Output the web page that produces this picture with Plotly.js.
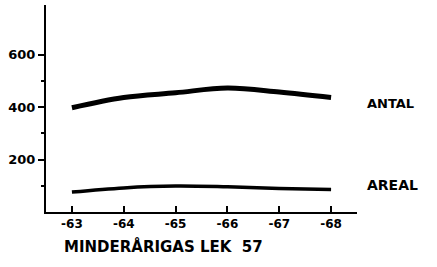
<!DOCTYPE html>
<html><head><meta charset="utf-8">
<script src="https://cdn.plot.ly/plotly-3.0.1.min.js"></script>
<style>html,body{margin:0;padding:0;background:#fff}</style>
</head><body><div id="c" style="width:437px;height:267px"></div>
<script>
const years = [1963, 1964, 1965, 1966, 1967, 1968];
const yearLabels = ['-63', '-64', '-65', '-66', '-67', '-68'];
const antal = [398, 437, 455, 473, 458, 437];
const areal = [76, 92, 99, 96, 90, 86];
const seriesNames = ['ANTAL', 'AREAL'];
const yTicks = [200, 400, 600];
const yTickLabels = ['200', '400', '600'];
const xTitle = 'MINDERÅRIGAS LEK  57';

const F = 'DejaVu Sans, sans-serif';
const traces = [
  {x: years, y: antal, mode: 'lines', line: {color: '#000', width: 5, shape: 'spline'}, name: seriesNames[0]},
  {x: years, y: areal, mode: 'lines', line: {color: '#000', width: 3.5, shape: 'spline'}, name: seriesNames[1]}
];
const layout = {
  width: 437, height: 267,
  margin: {l: 46, r: 80, t: 5, b: 55},
  paper_bgcolor: '#fff', plot_bgcolor: '#fff',
  showlegend: false,
  xaxis: {
    range: [1962.5, 1968.5], tickvals: years, ticktext: yearLabels,
    ticks: 'inside', ticklen: 6, tickwidth: 2, tickcolor: '#000',
    showline: true, linewidth: 2, linecolor: '#000', showgrid: false, zeroline: false,
    tickfont: {family: F, size: 12, color: '#000', weight: 'bold'}
  },
  yaxis: {
    range: [0, 790], tickvals: yTicks, ticktext: yTickLabels,
    ticks: 'outside', ticklen: 6, tickwidth: 2, tickcolor: '#000',
    minor: {tickvals: [100, 300, 500], ticks: 'outside', ticklen: 3, tickwidth: 2, tickcolor: '#000'},
    showline: true, linewidth: 2, linecolor: '#000', showgrid: false, zeroline: false,
    tickfont: {family: F, size: 13, color: '#000', weight: 'bold'}
  },
  annotations: [
    {x: 1, xref: 'paper', xanchor: 'left', xshift: 8, y: antal[5], yref: 'y', yshift: -6, text: seriesNames[0], showarrow: false,
     font: {family: F, size: 13, color: '#000', weight: 'bold'}},
    {x: 1, xref: 'paper', xanchor: 'left', xshift: 8, y: areal[5], yref: 'y', yshift: 4, text: seriesNames[1], showarrow: false,
     font: {family: F, size: 14, color: '#000', weight: 'bold'}},
    {x: 0.05, xref: 'paper', xanchor: 'left', y: 0, yref: 'paper', yanchor: 'top', yshift: -23, text: xTitle, showarrow: false,
     font: {family: F, size: 15, color: '#000', weight: 'bold'}}
  ]
};
Plotly.newPlot('c', traces, layout, {displayModeBar: false, staticPlot: true});
</script></body></html>
